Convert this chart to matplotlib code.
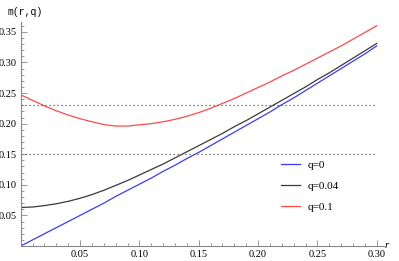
import numpy as np
import matplotlib
matplotlib.use("Agg")
import matplotlib.pyplot as plt
from matplotlib.ticker import MultipleLocator, FixedLocator

# values
r = [0.00, 0.01, 0.02, 0.03, 0.04, 0.05, 0.06, 0.07, 0.08, 0.09, 0.10,
     0.11, 0.12, 0.13, 0.14, 0.15, 0.16, 0.17, 0.18, 0.19, 0.20,
     0.21, 0.22, 0.23, 0.24, 0.25, 0.26, 0.27, 0.28, 0.29, 0.30]
m_q0 = [0.000, 0.010, 0.020, 0.030, 0.040, 0.050, 0.060, 0.070, 0.081, 0.091, 0.101,
        0.111, 0.122, 0.132, 0.143, 0.153, 0.164, 0.175, 0.186, 0.197, 0.208,
        0.219, 0.231, 0.242, 0.254, 0.266, 0.278, 0.290, 0.302, 0.314, 0.327]
m_q004 = [0.063, 0.0637, 0.066, 0.069, 0.073, 0.078, 0.084, 0.091, 0.099, 0.107, 0.116,
          0.125, 0.134, 0.144, 0.154, 0.164, 0.174, 0.184, 0.195, 0.205, 0.216,
          0.227, 0.238, 0.249, 0.260, 0.272, 0.283, 0.295, 0.307, 0.319, 0.331]
m_q01 = [0.247, 0.238, 0.229, 0.221, 0.214, 0.208, 0.203, 0.1985, 0.196, 0.196, 0.198,
         0.200, 0.203, 0.207, 0.212, 0.218, 0.225, 0.233, 0.241, 0.250, 0.259,
         0.268, 0.278, 0.287, 0.297, 0.307, 0.317, 0.327, 0.338, 0.349, 0.360]
labels = ["q=0", "q=0.04", "q=0.1"]
h_levels = [0.15, 0.23]
xticks = [0.05, 0.10, 0.15, 0.20, 0.25, 0.30]
yticks = [0.05, 0.10, 0.15, 0.20, 0.25, 0.30, 0.35]

serif = "Liberation Serif"

fig = plt.figure(figsize=(3.99, 2.61), dpi=100)
ax = fig.add_axes([0.052, 0.0575, 0.910, 0.858])

ax.plot(r, m_q0, color="#3b3bff", lw=0.9, label=labels[0])
ax.plot(r, m_q004, color="#3a3a3a", lw=0.9, label=labels[1])
ax.plot(r, m_q01, color="#ff4a4a", lw=0.9, label=labels[2])
for h in h_levels:
    ax.plot([0, 0.30], [h, h], color="#555555", lw=0.9, ls=(0, (1, 2.2)))

ax.set_xlim(0, 0.306)
ax.set_ylim(0, 0.366)

for s in ["top", "right"]:
    ax.spines[s].set_visible(False)
for s in ["left", "bottom"]:
    ax.spines[s].set_color("#888888")
    ax.spines[s].set_linewidth(0.8)

ax.xaxis.set_major_locator(FixedLocator(xticks))
ax.yaxis.set_major_locator(FixedLocator(yticks))
ax.xaxis.set_minor_locator(MultipleLocator(0.01))
ax.yaxis.set_minor_locator(MultipleLocator(0.01))
ax.set_xticklabels(["%.2f" % v for v in xticks])
ax.set_yticklabels(["%.2f" % v for v in yticks])
ax.tick_params(which="both", direction="in", color="#888888", width=0.6)
ax.tick_params(which="major", length=4, labelsize=7.5, pad=3)
ax.tick_params(which="minor", length=2)
for t in ax.get_xticklabels() + ax.get_yticklabels():
    t.set_fontfamily(serif)

fig.text(0.02, 0.955, "m(r,q)", fontsize=7, family="Liberation Mono", va="center")
fig.text(0.963, 0.06, "r", fontsize=8, family=serif, style="italic", va="center")

leg = ax.legend(loc="center left", bbox_to_anchor=(0.717, 0.2675), frameon=False,
                prop={"family": serif, "size": 8}, handlelength=1.7,
                labelspacing=1.0, handletextpad=0.7, borderpad=0, borderaxespad=0)

fig.savefig("out.png", dpi=100)
